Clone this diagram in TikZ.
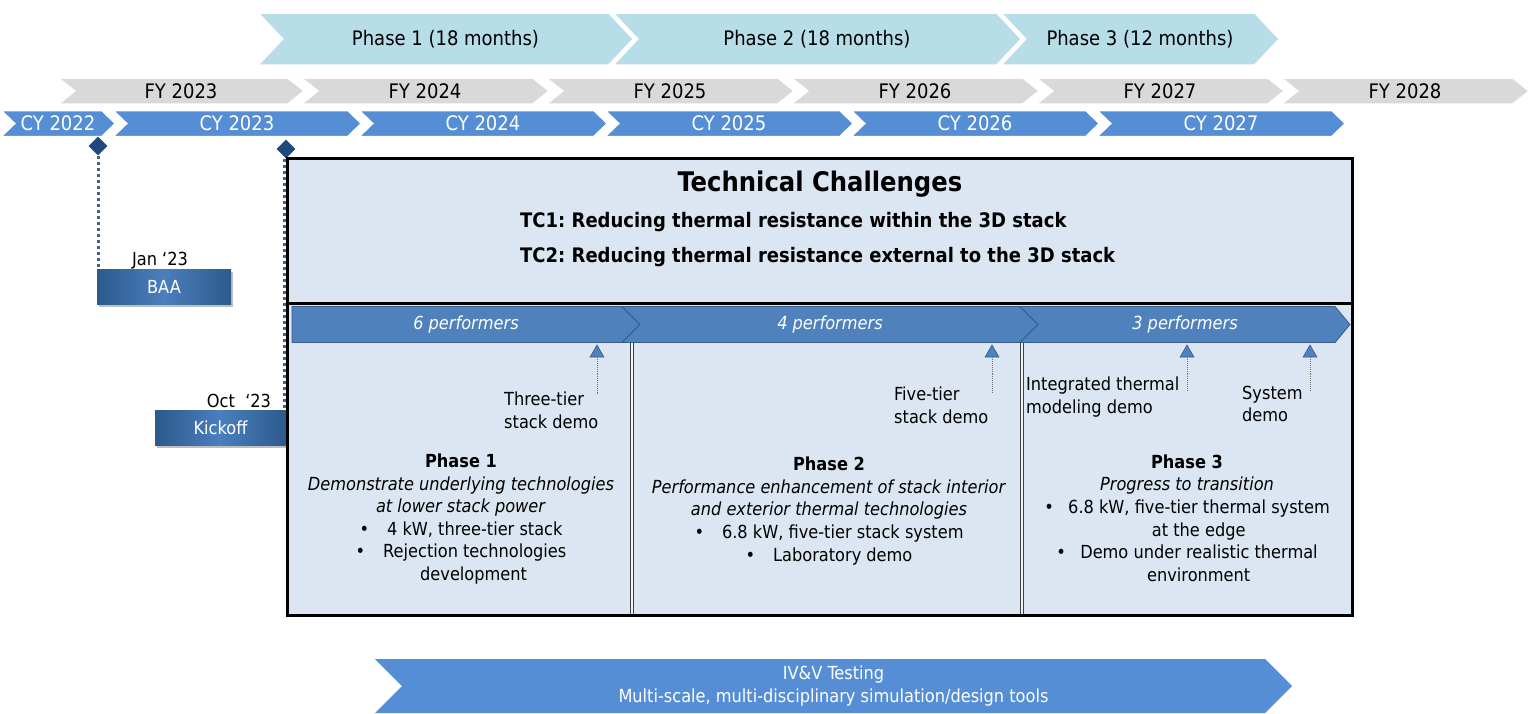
\documentclass[tikz,border=0pt]{standalone}
\usepackage{fontspec}
\setmainfont{DejaVu Sans Condensed}
\usetikzlibrary{shapes.geometric}
\frenchspacing

\definecolor{phasecol}{HTML}{B7DDE8}
\definecolor{fycol}{HTML}{D9D9D9}
\definecolor{cycol}{HTML}{558ED5}
\definecolor{boxcol}{HTML}{DCE6F2}
\definecolor{perfcol}{HTML}{4F81BD}
\definecolor{perfline}{HTML}{385D8A}
\definecolor{navy}{HTML}{1F497D}
\definecolor{btnedge}{HTML}{2C5A8C}
\definecolor{btnmid}{HTML}{4A7EBD}

% chevron: name, x left, x tip, y centre, half height, notch, tip depth, style, text
\newcommand{\chevron}[9]{%
  \path[#8] (#2,#4-#5) -- (#3-#7,#4-#5) -- (#3,#4) -- (#3-#7,#4+#5)
    -- (#2,#4+#5) -- (#2+#6,#4) -- cycle;
  \node[#8 text] (#1) at ({(#2+#3)/2},#4) {#9};
}

% button: name, x left, x right, y top, y bottom, text
\newcommand{\button}[6]{%
  \fill[black, opacity=0.25] (#2+1.5,#4+2.5) rectangle (#3+1.5,#5+2.5);
  \shade[left color=btnedge, right color=btnmid] (#2,#4) rectangle ({(#2+#3)/2},#5);
  \shade[left color=btnmid, right color=btnedge] ({(#2+#3)/2},#4) rectangle (#3,#5);
  \node[text=white] (#1) at ({(#2+#3)/2},{(#4+#5)/2}) {#6};
}

\begin{document}
\begin{tikzpicture}[x=1pt, y=-1pt,
    every node/.style={font=\fontsize{18}{22.6}\selectfont, inner sep=0pt},
    phase/.style={fill=phasecol, draw=white, line width=2.5pt},
    phase text/.style={font=\fontsize{20}{24}\selectfont},
    fy/.style={fill=fycol, draw=white, line width=2.5pt},
    fy text/.style={font=\fontsize{20}{24}\selectfont},
    cy/.style={fill=cycol, draw=white, line width=2.5pt},
    cy text/.style={font=\fontsize{20}{24}\selectfont, text=white},
    perf/.style={fill=perfcol, draw=perfline, line width=0.8pt},
    perf text/.style={font=\fontsize{18}{22}\selectfont\itshape, text=white},
    ivv/.style={fill=cycol},
    ivv text/.style={align=center, text=white, font=\fontsize{18}{23}\selectfont},
    gate/.style={diamond, fill=navy, minimum width=19pt, minimum height=19pt},
    gateline/.style={draw=navy!85, line width=3pt, dash pattern=on 3pt off 3pt},
    milestone/.style={regular polygon, regular polygon sides=3, minimum size=16pt,
      fill=perfcol, draw=perfline, line width=0.6pt},
    msline/.style={draw=black!55, line width=0.9pt, densely dotted},
    mslabel/.style={anchor=west, align=left},
    divider/.style={draw=black!75, double=white!60!boxcol, double distance=1.6pt,
      line width=0.9pt},
    tcline/.style={anchor=west, font=\fontsize{20}{24}\selectfont\bfseries},
    block/.style={align=center}]

    \useasboundingbox (0,0) rectangle (1534,713);

    % Phases
    \chevron{ph1head}{257}{634}{39}{26.5}{25}{25}{phase}{Phase 1 (18 months)}
    \chevron{ph2head}{612}{1022}{39}{26.5}{25}{25}{phase}{Phase 2 (18 months)}
    \chevron{ph3head}{1000}{1280}{39}{26.5}{25}{25}{phase}{Phase 3 (12 months)}

    % Fiscal years
    \chevron{fy23}{57}{305}{91}{13.5}{17}{17}{fy}{FY 2023}
    \chevron{fy24}{300}{550}{91}{13.5}{17}{17}{fy}{FY 2024}
    \chevron{fy25}{545}{795}{91}{13.5}{17}{17}{fy}{FY 2025}
    \chevron{fy26}{790}{1040}{91}{13.5}{17}{17}{fy}{FY 2026}
    \chevron{fy27}{1035}{1285}{91}{13.5}{17}{17}{fy}{FY 2027}
    \chevron{fy28}{1280}{1530}{91}{13.5}{17}{17}{fy}{FY 2028}

    % Calendar years
    \chevron{cy22}{0}{116}{123.5}{13.5}{14}{14}{cy}{CY 2022}
    \chevron{cy23}{112}{362}{123.5}{13.5}{14}{14}{cy}{CY 2023}
    \chevron{cy24}{358}{608}{123.5}{13.5}{14}{14}{cy}{CY 2024}
    \chevron{cy25}{604}{854}{123.5}{13.5}{14}{14}{cy}{CY 2025}
    \chevron{cy26}{850}{1100}{123.5}{13.5}{14}{14}{cy}{CY 2026}
    \chevron{cy27}{1096}{1346}{123.5}{13.5}{14}{14}{cy}{CY 2027}

    % Gates
    \node[gate] (gbaa) at (98,146) {};
    \node[gate] (gkick) at (286,149) {};
    \button{baa}{97}{231}{269}{304}{BAA}
    \button{kick}{155}{286}{410}{445}{Kickoff}
    \node (jan) at (160,261) {Jan ‘23};
    \node (oct) at (239,401) {Oct\ \ ‘23};
    \coordinate (baatop) at (98,269);
    \coordinate (kicktop) at (284.5,410);
    \draw[gateline] (gbaa.south) -- (baatop);
    \draw[gateline] ([xshift=-1.5pt]gkick.south) -- (kicktop);

    % Main box
    \fill[boxcol] (287,158) rectangle (1352,615);

    % Performers
    \chevron{perf1}{292}{640}{324.5}{18}{0}{18}{perf}{6 performers}
    \chevron{perf2}{622}{1038}{324.5}{18}{18}{18}{perf}{4 performers}
    \chevron{perf3}{1020}{1350}{324.5}{18}{18}{15}{perf}{3 performers}

    % Dividers and frame
    \draw[divider] (632,343) -- (632,615);
    \draw[divider] (1022,343) -- (1022,615);
    \draw[line width=3pt] (287,303.5) -- (1352,303.5);
    \draw[line width=3pt] (287,158) rectangle (1352,615);

    % Technical challenges
    \node[font=\fontsize{27}{32}\selectfont\bfseries] (tctitle) at (820,184) {Technical Challenges};
    \node[tcline] (tc1) at (520,222) {TC1: Reducing thermal resistance within the 3D stack};
    \node[tcline] (tc2) at (520,257) {TC2: Reducing thermal resistance external to the 3D stack};

    % Milestones
    \node[milestone] (m1) at (597,353) {};
    \node[milestone] (m2) at (992,353) {};
    \node[milestone] (m3) at (1187,353) {};
    \node[milestone] (m4) at (1310,353) {};
    \coordinate (m1end) at (597,395);
    \coordinate (m2end) at (992,392);
    \coordinate (m3end) at (1187,391);
    \coordinate (m4end) at (1310,390);
    \draw[msline] (m1.south) -- (m1end);
    \draw[msline] (m2.south) -- (m2end);
    \draw[msline] (m3.south) -- (m3end);
    \draw[msline] (m4.south) -- (m4end);
    \node[mslabel] (m1txt) at (504,410) {Three-tier\\stack demo};
    \node[mslabel] (m2txt) at (894,405) {Five-tier\\stack demo};
    \node[mslabel] (m3txt) at (1026,397) {Integrated thermal\\modeling demo};
    \node[mslabel] (m4txt) at (1242,404) {System\\demo};

    % Phase descriptions
    \node[block] (ph1) at (461,519) {\textbf{Phase 1}\\
      \textit{Demonstrate underlying technologies}\\
      \textit{at lower stack power}\\
      \textbullet\hspace{1em}4 kW, three-tier stack\\
      \textbullet\hspace{1em}Rejection technologies\\
      \hspace*{1.4em}development};
    \node[block] (ph2) at (829,511) {\textbf{Phase 2}\\
      \textit{Performance enhancement of stack interior}\\
      \textit{and exterior thermal technologies}\\
      \textbullet\hspace{1em}6.8 kW, five-tier stack system\\
      \textbullet\hspace{1em}Laboratory demo};
    \node[block] (ph3) at (1187,518) {\textbf{Phase 3}\\
      \textit{Progress to transition}\\
      \textbullet\hspace{0.8em}6.8 kW, five-tier thermal system\\
      \hspace*{1.3em}at the edge\\
      \textbullet\hspace{0.8em}Demo under realistic thermal\\
      \hspace*{1.3em}environment};

    % IV&V
    \chevron{ivvbar}{375}{1292}{686}{27}{27}{27}{ivv}{IV\&V Testing\\Multi-scale, multi-disciplinary simulation/design tools}
\end{tikzpicture}
\end{document}
